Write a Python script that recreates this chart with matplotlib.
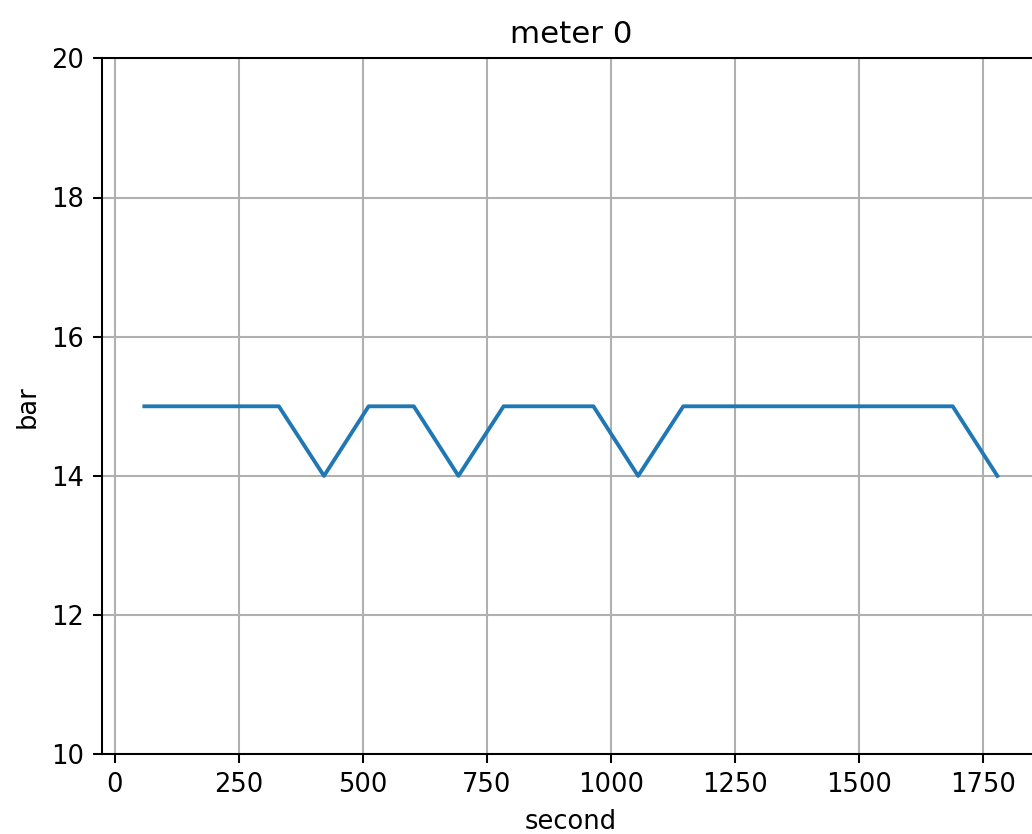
import matplotlib
matplotlib.use('Agg')
import matplotlib.pyplot as plt

# meter 0 readings
seconds = [60, 150, 241, 331, 422, 512, 603, 693, 784, 874,
           965, 1055, 1146, 1236, 1327, 1417, 1508, 1598, 1689, 1779]
pressure = [15, 15, 15, 15, 14, 15, 15, 14, 15, 15,
            15, 14, 15, 15, 15, 15, 15, 15, 15, 14]

dpi = 185
fig = plt.figure(figsize=(1032 / dpi, 834 / dpi), dpi=dpi)
ax = fig.add_axes([101.7 / 1032, 1 - 754.3 / 834, (1040 - 101.7) / 1032, (754.3 - 58.3) / 834])

ax.plot(seconds, pressure)
ax.set_ylim(10, 20)
ax.set_title('meter 0')
ax.set_xlabel('second')
ax.set_ylabel('bar')
ax.grid(True)

fig.savefig('out.png', dpi=dpi)
